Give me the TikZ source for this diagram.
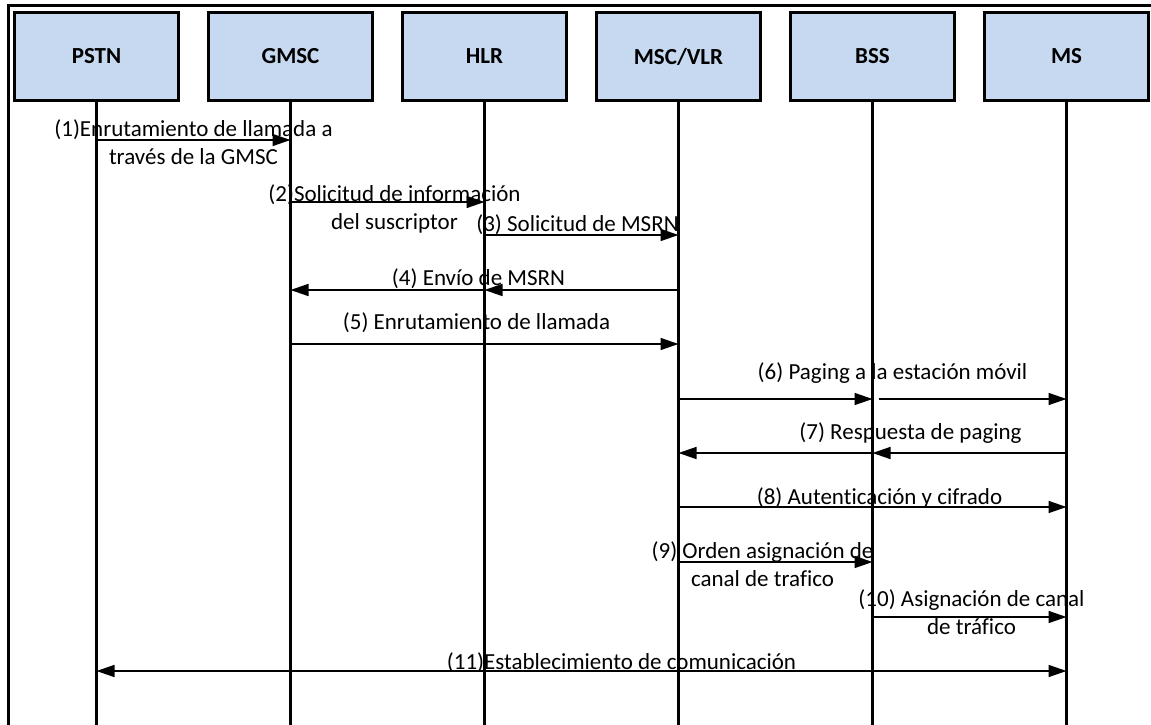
\documentclass[tikz,border=0pt]{standalone}
\usepackage{fontspec}
\setmainfont{Carlito}[Ligatures={NoCommon}]
\usepackage{tikz}
\usetikzlibrary{arrows.meta, positioning}
\usepackage{xcolor}
\definecolor{boxblue}{HTML}{C6D9F1}

\begin{document}
\begin{tikzpicture}[
      x=1pt, y=-1pt,
      node distance=27pt,
      stage/.style={draw, line width=3pt, fill=boxblue, minimum width=164pt, minimum height=88pt, inner sep=0pt, font=\fontsize{23}{28}\selectfont\bfseries},
      lifeline/.style={line width=3pt},
      msg/.style={-{Triangle[length=18pt, width=12pt]}, line width=1.5pt},
      twoway/.style={{Triangle[length=18pt, width=12pt]}-{Triangle[length=18pt, width=12pt]}, line width=1.5pt},
      data/.style={font=\fontsize{23}{28}\selectfont, align=center, inner sep=0pt}
    ]

    \useasboundingbox (0,0) rectangle (1151,725);

    % Frame
    \draw[line width=3pt] (1151,6) -| (8,725);

    % Nodes
    \node[stage] (pstn) at (96.5,56.5) {PSTN};
    \node[stage, right=of pstn] (gmsc) {GMSC};
    \node[stage, right=of gmsc] (hlr) {HLR};
    \node[stage, right=of hlr] (msc) {MSC/VLR};
    \node[stage, right=of msc] (bss) {BSS};
    \node[stage, right=of bss] (ms) {MS};

    % Lifelines
    \coordinate (bottom) at (0,725);
    \draw[lifeline] (pstn.south) -- (pstn |- bottom);
    \draw[lifeline] (gmsc.south) -- (gmsc |- bottom);
    \draw[lifeline] (hlr.south) -- (hlr |- bottom);
    \draw[lifeline] (msc.south) -- (msc |- bottom);
    \draw[lifeline] (bss.south) -- (bss |- bottom);
    \draw[lifeline] (ms.south) -- (ms |- bottom);

    % Message rows
    \coordinate (m1) at (0,140);
    \coordinate (m2) at (0,202);
    \coordinate (m3) at (0,235);
    \coordinate (m4) at (0,290);
    \coordinate (m5) at (0,344);
    \coordinate (m6) at (0,399);
    \coordinate (m7) at (0,453);
    \coordinate (m8) at (0,507);
    \coordinate (m9) at (0,562);
    \coordinate (m10) at (0,617);
    \coordinate (m11) at (0,671);

    % Messages
    \draw[msg] (pstn |- m1) -- node[data, yshift=-2.5pt] {(1)Enrutamiento de llamada a\\través de la GMSC} (gmsc |- m1);
    \draw[msg] (gmsc |- m2) -- node[data, xshift=7pt, yshift=-6.5pt] {(2)Solicitud de información\\del suscriptor} (hlr |- m2);
    \draw[msg] (hlr |- m3) -- node[data, xshift=-4pt, yshift=10pt] {(3) Solicitud de MSRN} (msc |- m3);

    \draw[msg] (msc |- m4) -- (hlr |- m4);
    \draw[msg] (hlr |- m4) -- node[data, pos=0, xshift=-6pt, yshift=11pt] {(4) Envío de MSRN} (gmsc |- m4);

    \draw[msg] (gmsc |- m5) -- node[data, xshift=-8pt, yshift=21pt] {(5) Enrutamiento de llamada} (msc |- m5);

    \draw[msg] (msc |- m6) -- (bss |- m6);
    \draw[msg, shorten <=6pt] (bss |- m6) -- node[data, pos=0, xshift=20pt, yshift=26pt] {(6) Paging a la estación móvil} (ms |- m6);

    \draw[msg] (ms |- m7) -- (bss |- m7);
    \draw[msg] (bss |- m7) -- node[data, pos=0, xshift=38pt, yshift=20pt] {(7) Respuesta de paging} (msc |- m7);

    \draw[msg] (msc |- m8) -- node[data, xshift=7pt, yshift=9pt] {(8) Autenticación y cifrado} (ms |- m8);
    \draw[msg] (msc |- m9) -- node[data, xshift=-13pt, yshift=-2pt] {(9) Orden asignación de\\canal de trafico} (bss |- m9);
    \draw[msg] (bss |- m10) -- node[data, xshift=2pt, yshift=5pt] {(10) Asignación de canal\\de tráfico} (ms |- m10);

    \draw[twoway] (pstn |- m11) -- node[data, xshift=40pt, yshift=8pt] {(11)Establecimiento de comunicación} (ms |- m11);

  \end{tikzpicture}
\end{document}
